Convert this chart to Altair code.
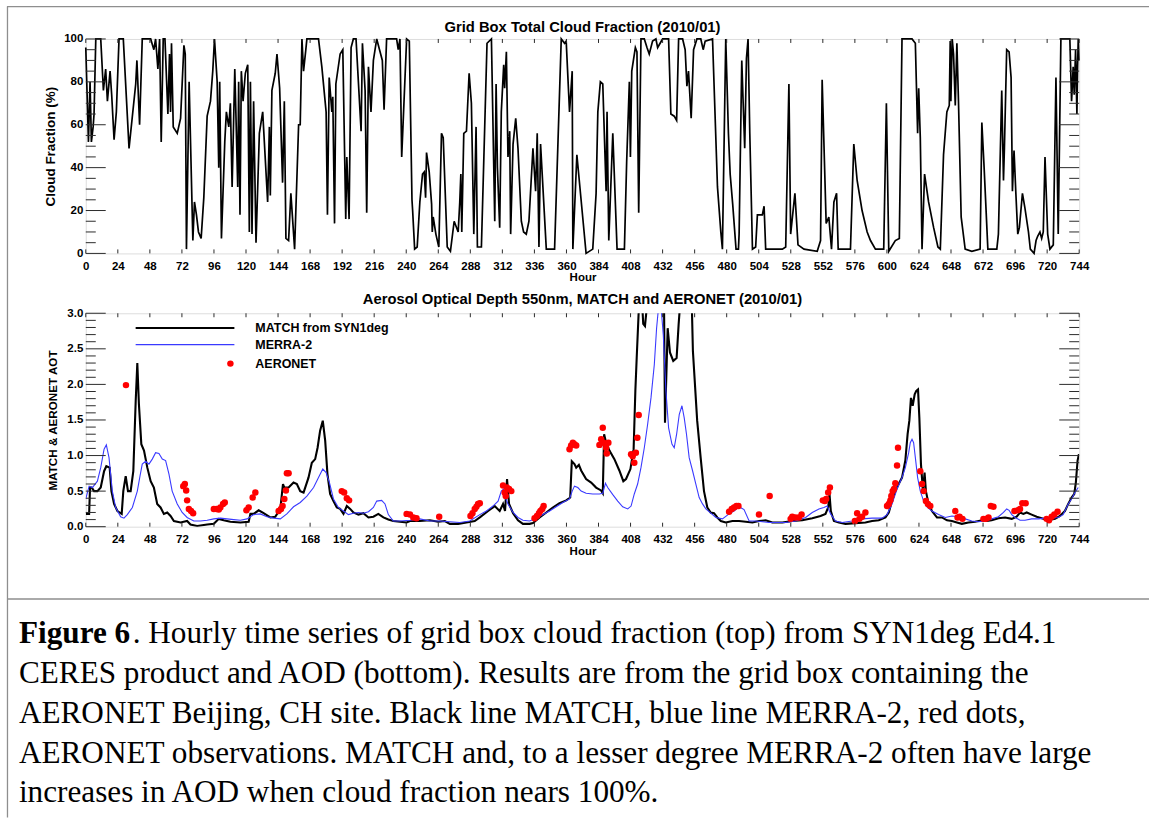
import altair as alt
import pandas as pd

# ---------------------------------------------------------------- data
# Grid box total cloud fraction (%) by hour of January 2010
cloud_points = [
    (0, 96), (2, 52), (3.2, 80), (4.2, 52), (5.5, 59), (6.2, 65), (7.5, 100), (11.2, 100),
    (13.2, 76), (14.9, 86), (16.2, 71), (18.2, 85), (19.4, 74), (21.2, 53), (22.9, 66),
    (24.9, 100), (28.1, 100), (32.4, 49), (37.4, 79), (38.3, 90), (40.3, 60), (42.3, 100),
    (48.6, 100), (51, 95), (52.3, 100), (54, 86), (55.3, 100), (56.5, 52), (58, 100),
    (59.3, 100), (61, 73), (61.5, 65), (62.7, 93), (63.5, 66), (64.2, 98), (65.5, 59),
    (68.5, 56), (71, 63), (73.5, 97), (74.5, 93), (75.4, 2), (77.4, 80), (80.2, 6),
    (81.4, 24), (82.9, 18), (84.4, 10), (86.4, 7), (88.4, 26), (90.9, 64), (93.4, 71),
    (95.1, 85), (96.4, 100), (98.4, 80), (99.6, 40), (100.3, 80), (101.6, 7), (104.1, 52),
    (105.3, 66), (107.1, 59), (108.3, 70), (109.6, 31), (111.6, 86), (113.8, 31),
    (114.5, 80), (115.5, 18), (116.5, 85), (117.8, 71), (119.5, 84), (121.3, 88),
    (122.5, 10), (123.3, 80), (124.5, 9), (125.7, 71), (127.5, 5), (130, 56), (132.5, 66),
    (136.2, 24), (137.5, 59), (138.2, 27), (139.4, 76), (141.9, 84), (143.2, 93),
    (145.2, 77), (147.4, 33), (148.7, 71), (149.9, 7), (151.9, 6), (153.6, 28), (156.4, 2),
    (159.4, 60), (160.6, 60), (161.9, 100), (163.1, 85), (164.8, 95), (165.6, 100),
    (174.3, 100), (176.8, 87), (180, 66), (181, 18), (182.3, 82), (184.3, 66), (185, 73),
    (186.3, 14), (187.3, 79), (190.5, 93), (192.5, 95), (194.7, 16), (195.5, 45),
    (197.2, 16), (198.7, 96), (200.4, 100), (202.4, 100), (206.2, 57), (207.2, 98),
    (209.2, 76), (210.4, 19), (211.7, 87), (213.6, 66), (215.4, 90), (217.9, 100),
    (220.4, 94), (222.1, 90), (223.4, 67), (225.3, 100), (232.8, 100), (234, 95),
    (235.3, 100), (236.6, 45), (240.3, 100), (242.3, 99), (244.3, 25), (244.8, 20),
    (246.3, 2), (248.2, 3), (250.2, 24), (252.2, 37), (253.5, 38), (254.5, 26), (255.2, 47),
    (257.2, 38), (259, 23), (259.5, 10), (260.2, 17), (262.2, 9), (264.4, 3), (266.4, 56),
    (267.7, 54), (270.7, 3), (273.1, 1), (275.9, 15), (278.9, 10), (280.1, 24), (280.9, 37),
    (281.6, 10), (283.1, 56), (285.1, 57), (287.1, 84), (288.8, 70), (290.6, 9), (292.3, 59),
    (293.3, 3), (296.3, 3), (300.5, 98), (303.8, 100), (306.3, 15), (307.3, 79), (308.3, 40),
    (310, 12), (311.2, 66), (313, 88), (313.7, 77), (315, 94), (316.2, 45), (317.5, 57),
    (318.2, 9), (320, 51), (322, 63), (323.7, 49), (326.2, 15), (327.9, 10), (329.9, 9),
    (331.9, 15), (334.9, 49), (336.9, 29), (338.1, 56), (339.4, 3), (340.6, 51), (344.9, 2),
    (351.1, 2), (356.1, 100), (358.6, 98), (359.8, 99), (362.3, 66), (364.3, 85), (364.8, 2),
    (367.8, 46), (374.7, 0), (379.7, 2), (382.2, 28), (383.5, 66), (385.4, 80), (387.2, 79),
    (389.7, 29), (390.4, 66), (391.7, 6), (394.7, 56), (397.9, 2), (403.4, 2), (405.1, 43),
    (407.1, 80), (407.9, 45), (408.9, 85), (411.6, 96), (412.8, 94), (414.1, 19),
    (415.8, 100), (418.3, 100), (420.3, 96), (422, 93), (424.5, 99), (427, 100), (428.3, 96),
    (432, 100), (436.5, 100), (438.2, 65), (440.7, 64), (442.5, 62), (444, 100), (447, 100),
    (448.9, 95), (450.2, 78), (451.4, 85), (453.4, 63), (455.2, 95), (457.7, 100),
    (460.6, 100), (462.4, 95), (463.9, 99), (469.4, 100), (473.1, 31), (474.3, 21),
    (475.6, 10), (476.8, 2), (479.3, 100), (481.3, 56), (482.6, 37), (484.5, 23), (487, 2),
    (488.8, 2), (489.3, 9), (491.3, 90), (492.3, 71), (493.5, 49), (494.8, 91), (496, 100),
    (497.3, 56), (499.3, 2), (501.7, 3), (503, 18), (506.7, 18), (508, 22), (509.2, 2),
    (521.7, 2), (524.2, 3), (526.6, 79), (527.9, 9), (531.1, 28), (533.4, 4), (537.9, 2),
    (547.8, 1), (550.3, 6), (551.5, 81), (554.5, 14), (556.5, 17), (558.5, 2), (560.3, 24),
    (562.3, 28), (563.5, 2), (572.7, 2), (575.2, 51), (577.7, 34), (581.4, 20), (585.2, 10),
    (587.7, 6), (591.4, 2), (597.6, 2), (599.6, 70), (601.4, 1), (606.3, 6), (609.3, 7),
    (611.3, 100), (618.8, 100), (621.3, 98), (623, 56), (623.8, 77), (625, 54), (626.3, 2),
    (628.2, 37), (631.2, 24), (635, 12), (638.2, 3), (640, 2), (642.4, 46), (644.9, 66),
    (646.7, 69), (647.4, 99), (647.9, 71), (648.9, 100), (649.9, 93), (651.2, 69),
    (652.4, 98), (653.6, 71), (655.6, 17), (658.6, 2), (663.6, 1), (669.8, 2), (671.1, 61),
    (672.8, 40), (675.6, 2), (682.3, 2), (683.5, 9), (686, 76), (687.3, 34), (688, 49),
    (689.7, 95), (691.5, 94), (693, 82), (694, 29), (695.2, 48), (696.5, 29), (698, 9),
    (699.2, 12), (701.5, 28), (703.4, 21), (706, 10), (707.4, 2), (710.2, 0), (711.7, 6),
    (712.9, 8), (714.6, 10), (715.9, 7), (717.1, 10), (718.4, 45), (720.4, 9), (722.1, 2),
    (724.6, 4), (726.6, 82), (728.3, 9), (730.3, 100), (737, 100), (738.3, 71), (739.5, 87),
    (740.3, 74), (741.3, 95), (742.3, 65), (742.8, 87), (743.3, 100), (743.8, 90),
]

# MATCH (SYN1deg) aerosol optical depth at 550 nm
match_points = [
    (0, 0.18), (2.5, 0.18), (3.2, 0.55), (4.5, 0.55), (6.2, 0.5), (8.7, 0.5), (11.2, 0.55),
    (13.7, 0.78), (15.4, 0.85), (17.9, 0.83), (19.2, 0.5), (21.2, 0.32), (23.7, 0.22),
    (26.9, 0.18), (28.1, 0.5), (29.9, 0.71), (31.6, 0.5), (33.6, 0.5), (35.6, 0.78),
    (37.4, 1.77), (38.6, 2.3), (39.8, 1.72), (41.6, 1.16), (43.6, 1.07), (46.1, 0.83),
    (48.6, 0.64), (51, 0.55), (53.5, 0.32), (56, 0.27), (58.5, 0.18), (61, 0.2), (63.5, 0.15),
    (66, 0.08), (71, 0.06), (75.9, 0.08), (78.4, 0.03), (83.4, 0.01), (90.9, 0.03),
    (95.9, 0.04), (99.6, 0.11), (103.3, 0.09), (108.3, 0.07), (115.8, 0.06), (122, 0.07),
    (123.3, 0.18), (125.7, 0.18), (129.5, 0.23), (133.2, 0.19), (138.2, 0.13), (141.9, 0.14),
    (145.7, 0.25), (147.7, 0.6), (148.7, 0.55), (151.9, 0.55), (155.6, 0.62), (158.1, 0.6),
    (160.6, 0.5), (163.1, 0.48), (166.8, 0.69), (169.3, 0.9), (171.8, 0.95), (173.6, 1.11),
    (175.5, 1.35), (177.5, 1.49), (179.3, 1.21), (181, 0.74), (183, 0.46), (185.5, 0.36),
    (188, 0.27), (190.5, 0.25), (193, 0.18), (195.5, 0.29), (198, 0.25), (200.4, 0.2),
    (204.2, 0.17), (207.9, 0.19), (211.7, 0.13), (215.4, 0.14), (219.1, 0.18), (222.9, 0.13),
    (226.6, 0.1), (230.3, 0.08), (235.3, 0.07), (240.3, 0.06), (242.8, 0.08), (250.2, 0.08),
    (257.7, 0.09), (263.9, 0.07), (268.9, 0.08), (272.7, 0.04), (278.9, 0.04), (285.1, 0.06),
    (291.3, 0.08), (295.1, 0.13), (301.3, 0.22), (306.3, 0.29), (310, 0.22), (312.5, 0.32),
    (314, 0.22), (315.5, 0.67), (317, 0.32), (320, 0.19), (323.7, 0.09), (327.4, 0.04),
    (332.4, 0.04), (334.9, 0.05), (339.9, 0.13), (344.9, 0.2), (349.8, 0.27), (354.8, 0.33),
    (359.8, 0.37), (362.8, 0.41), (364, 0.92), (366, 0.88), (367.3, 0.83), (369.3, 0.87),
    (371, 0.79), (374.7, 0.67), (378.5, 0.62), (382.2, 0.55), (385.9, 0.51), (387.2, 0.47),
    (388.2, 1.3), (389.7, 1.18), (392.2, 1.07), (395.9, 0.95), (399.6, 0.79), (402.6, 0.64),
    (404.6, 0.67), (407.9, 0.81), (410.3, 1.09), (411.6, 1.91), (412.6, 2.37), (414, 2.98),
    (415.3, 3.3), (416.5, 3.2), (417.5, 2.85), (418.8, 2.82), (420, 3.05), (422, 3.6),
    (426, 4.0), (430, 3.8), (433, 3.3), (433.8, 1.46), (435.8, 2.79), (437.5, 2.45),
    (440, 2.33), (442.5, 2.37), (444, 2.84), (445, 3.1), (448, 3.5), (452, 3.4), (453.9, 3.1),
    (454.7, 2.47), (457.9, 1.49), (460.5, 0.97), (463, 0.5), (465.5, 0.27), (468, 0.2),
    (470.5, 0.19), (473, 0.13), (475.6, 0.08), (479.3, 0.06), (484.3, 0.08), (489.3, 0.08),
    (494.3, 0.07), (499.3, 0.06), (504.2, 0.08), (509.2, 0.09), (514.2, 0.06), (521.7, 0.06),
    (529.1, 0.08), (536.6, 0.09), (544.1, 0.12), (550.3, 0.15), (554, 0.18), (556, 0.27),
    (557, 0.46), (558, 0.22), (560.3, 0.08), (564, 0.06), (569, 0.04), (576.5, 0.05),
    (583.9, 0.06), (588.9, 0.08), (593.9, 0.09), (598.9, 0.13), (601.4, 0.2), (603.8, 0.36),
    (606.3, 0.5), (608.8, 0.6), (611.3, 0.69), (613.8, 0.93), (615.5, 1.3), (616.8, 1.49),
    (618, 1.81), (619.3, 1.7), (620.8, 1.86), (622, 1.91), (623.3, 1.93), (624.3, 1.53),
    (625.5, 0.88), (627, 0.5), (628.2, 0.76), (629.2, 0.5), (631.2, 0.32), (633.7, 0.22),
    (637.5, 0.13), (641.2, 0.13), (645, 0.09), (648.7, 0.08), (652.4, 0.06), (656.1, 0.04),
    (661.1, 0.06), (666.1, 0.07), (671.1, 0.09), (674.8, 0.08), (678.5, 0.09), (683.5, 0.12),
    (688.5, 0.13), (693.5, 0.11), (697.2, 0.14), (699.7, 0.2), (702.2, 0.18), (704.7, 0.2),
    (708.4, 0.17), (712.2, 0.14), (715.9, 0.12), (720.9, 0.09), (725.9, 0.11), (729.6, 0.15),
    (733.3, 0.22), (735.8, 0.32), (738.3, 0.41), (740.3, 0.46), (741.5, 0.62), (742.8, 0.93),
    (743.8, 1.02),
]

# MERRA-2 aerosol optical depth
merra_points = [
    (0, 0.39), (2.5, 0.57), (5, 0.55), (8.7, 0.64), (11.2, 0.83), (13.7, 1.09), (15.4, 1.15),
    (17.4, 0.97), (19.9, 0.5), (22.4, 0.27), (26.1, 0.14), (28.6, 0.12), (31.1, 0.17),
    (34.9, 0.27), (38.6, 0.5), (40.6, 0.71), (42.3, 0.88), (44.8, 0.92), (47.3, 0.88),
    (49.8, 0.95), (52.3, 1.04), (54.8, 1.03), (57.3, 0.95), (59.8, 0.93), (62.3, 0.74),
    (64.7, 0.5), (68.5, 0.32), (72.2, 0.2), (75.9, 0.13), (80.9, 0.08), (85.9, 0.08),
    (90.9, 0.09), (95.9, 0.11), (100.8, 0.12), (105.8, 0.11), (110.8, 0.1), (115.8, 0.09),
    (120.8, 0.11), (125.7, 0.17), (130.7, 0.18), (135.7, 0.14), (140.7, 0.12), (145.7, 0.11),
    (150.6, 0.18), (155.6, 0.28), (160.6, 0.34), (165.6, 0.43), (170.6, 0.55), (174.3, 0.69),
    (177.5, 0.81), (180, 0.76), (182.5, 0.62), (185.5, 0.39), (189.2, 0.27), (193, 0.22),
    (196.7, 0.17), (200.4, 0.19), (204.2, 0.2), (207.9, 0.19), (211.7, 0.21), (215.4, 0.27),
    (217.9, 0.36), (221.6, 0.37), (224.1, 0.32), (226.6, 0.17), (230.3, 0.08), (235.3, 0.08),
    (242.8, 0.09), (250.2, 0.11), (257.7, 0.08), (265.2, 0.08), (272.7, 0.07), (280.1, 0.06),
    (287.6, 0.08), (295.1, 0.17), (300, 0.22), (305, 0.29), (308.8, 0.36), (311.2, 0.5),
    (313, 0.53), (314.5, 0.4), (316.2, 0.32), (320, 0.2), (323.7, 0.13), (327.4, 0.09),
    (332.4, 0.08), (337.4, 0.12), (342.4, 0.17), (347.4, 0.22), (352.3, 0.28), (357.3, 0.34),
    (362.3, 0.39), (364.3, 0.5), (366, 0.57), (368.5, 0.55), (371, 0.5), (374.7, 0.47),
    (379.7, 0.46), (384.7, 0.46), (387.2, 0.47), (389.2, 0.61), (390.9, 0.55), (394.7, 0.45),
    (398.4, 0.36), (402.1, 0.28), (405.9, 0.25), (408.4, 0.29), (410.8, 0.46), (413.3, 0.6),
    (415.8, 0.83), (418.3, 1.11), (420.8, 1.44), (423.3, 1.81), (425.8, 2.28), (427.5, 2.79),
    (428.8, 3.05), (430.8, 3.1), (432.5, 2.7), (434.5, 1.91), (436.5, 1.39), (439, 1.16),
    (440.7, 1.11), (442.5, 1.3), (444.5, 1.58), (446.5, 1.7), (448.2, 1.53), (449.9, 1.3),
    (451.9, 0.97), (454.4, 0.79), (456.9, 0.6), (459.4, 0.41), (461.9, 0.32), (464.4, 0.25),
    (468.1, 0.19), (471.9, 0.13), (476.8, 0.11), (481.8, 0.18), (485.5, 0.22), (489.3, 0.28),
    (493, 0.24), (496.8, 0.08), (501.7, 0.08), (506.7, 0.07), (511.7, 0.06), (516.7, 0.06),
    (524.2, 0.06), (531.6, 0.08), (539.1, 0.13), (544.1, 0.2), (549.1, 0.25), (552.8, 0.27),
    (555.3, 0.29), (557.8, 0.18), (561.5, 0.08), (566.5, 0.06), (574, 0.08), (581.4, 0.11),
    (588.9, 0.12), (596.4, 0.12), (600.1, 0.17), (603.8, 0.32), (607.6, 0.53), (611.3, 0.69),
    (613.8, 0.83), (616.3, 1.04), (617.5, 1.18), (618.8, 1.23), (620, 1.18), (621.3, 0.97),
    (623, 0.69), (625, 0.5), (627.5, 0.36), (630, 0.28), (633.7, 0.22), (638.7, 0.17),
    (643.7, 0.13), (648.7, 0.15), (653.6, 0.14), (658.6, 0.11), (663.6, 0.08), (668.6, 0.07),
    (673.6, 0.08), (678.5, 0.11), (683.5, 0.14), (687.3, 0.2), (689.7, 0.25), (691.5, 0.23),
    (693.5, 0.17), (696, 0.13), (699.7, 0.09), (703.4, 0.09), (708.4, 0.11), (713.4, 0.11),
    (718.4, 0.12), (723.4, 0.12), (728.3, 0.13), (732, 0.17), (735.8, 0.32), (738.3, 0.39),
    (740.8, 0.48), (743.3, 0.55),
]

# AERONET Beijing observations
aeronet_points = [
    (30.1, 1.99), (73.0, 0.57), (74.2, 0.6), (75.2, 0.51), (75.9, 0.37), (77.2, 0.25),
    (78.9, 0.22), (80.4, 0.19), (95.9, 0.25), (97.9, 0.25), (99.6, 0.24), (100.8, 0.27),
    (102.8, 0.32), (104.1, 0.34), (120.3, 0.23), (122, 0.27), (125, 0.41), (127, 0.48),
    (144.4, 0.22), (146.2, 0.25), (147.4, 0.29), (148.7, 0.39), (149.9, 0.51), (150.6, 0.75),
    (151.9, 0.75), (191.7, 0.5), (193.5, 0.48), (195.5, 0.4), (197.2, 0.37), (240.3, 0.18),
    (242.8, 0.17), (245.3, 0.13), (247.7, 0.12), (264.7, 0.14), (288.1, 0.15), (289.6, 0.19),
    (291.3, 0.25), (292.6, 0.28), (293.8, 0.32), (295.1, 0.33), (312.5, 0.58), (313.7, 0.48),
    (314.5, 0.43), (315.5, 0.55), (317, 0.53), (318.7, 0.5), (336.1, 0.12), (337.9, 0.15),
    (339.4, 0.19), (340.4, 0.22), (341.9, 0.25), (342.9, 0.29), (362.3, 1.09), (363.5, 1.14),
    (364.8, 1.18), (366, 1.16), (367.3, 1.14), (384.7, 1.15), (386, 1.23), (387.2, 1.39),
    (387.7, 1.18), (389.7, 1.11), (390.2, 1.03), (391.4, 1.18), (408.4, 1.02), (409.6, 0.99),
    (410.8, 0.9), (412, 1.04), (413.1, 1.25), (414.1, 1.57), (481.8, 0.21), (483.8, 0.25),
    (485.5, 0.27), (487.3, 0.29), (488.8, 0.29), (504.2, 0.17), (512.2, 0.43), (527.9, 0.11),
    (529.1, 0.14), (531.6, 0.13), (534.1, 0.13), (536.1, 0.17), (552, 0.37), (553.5, 0.36),
    (554.5, 0.39), (556, 0.48), (557.3, 0.55), (576, 0.08), (577.7, 0.19), (579.4, 0.11),
    (581.4, 0.14), (583.9, 0.2), (600.1, 0.29), (601.4, 0.32), (602.6, 0.37), (603.3, 0.43),
    (604.3, 0.5), (605.3, 0.53), (606.3, 0.61), (607.6, 0.86), (608.3, 1.11), (625, 0.78),
    (626.3, 0.6), (627.5, 0.5), (629.2, 0.36), (630.7, 0.32), (632.5, 0.29), (651.2, 0.22),
    (652.9, 0.13), (654.4, 0.14), (656.6, 0.11), (672.3, 0.11), (674.1, 0.11), (676.1, 0.13),
    (677.8, 0.29), (679.8, 0.28), (695.5, 0.22), (698, 0.23), (699.7, 0.25), (701.4, 0.33),
    (703.9, 0.33), (719.6, 0.11), (721.4, 0.09), (723.4, 0.14), (725.4, 0.17), (727.8, 0.21),
]

hour_ticks = list(range(0, 745, 24))
cf_major = [0, 20, 40, 60, 80, 100]
cf_minor = [5, 10, 15, 25, 30, 35, 45, 50, 55, 65, 70, 75, 85, 90, 95]
aod_major = [0.0, 0.5, 1.0, 1.5, 2.0, 2.5, 3.0]
aod_minor = [0.1, 0.2, 0.3, 0.4, 0.6, 0.7, 0.8, 0.9, 1.1, 1.2, 1.3, 1.4, 1.6, 1.7, 1.8, 1.9,
             2.1, 2.2, 2.3, 2.4, 2.6, 2.7, 2.8, 2.9]

top_title = "Grid Box Total Cloud Fraction (2010/01)"
bottom_title = "Aerosol Optical Depth 550nm, MATCH and AERONET (2010/01)"
legend_labels = ["MATCH from SYN1deg", "MERRA-2", "AERONET"]

caption_bold = "Figure 6"
caption_first = ". Hourly time series of grid box cloud fraction (top) from SYN1deg Ed4.1"
caption_rest = [
    "CERES product and AOD (bottom). Results are from the grid box containing the",
    "AERONET Beijing, CH site. Black line MATCH, blue line MERRA-2, red dots,",
    "AERONET observations. MATCH and, to a lesser degree MERRA-2 often have large",
    "increases in AOD when cloud fraction nears 100%.",
]

# ---------------------------------------------------------------- styling
W, H1, H2 = 996, 215, 214
SANS = "Liberation Sans"
SERIF = "Liberation Serif"
INK = "#2b2b2b"
FRAME = "#8e8e8e"
CAP_SIZE = 31.3
TITLE_SIZE = 14.8

cloud_df = pd.DataFrame(cloud_points, columns=["hour", "value"])
match_df = pd.DataFrame(match_points, columns=["hour", "value"])
merra_df = pd.DataFrame(merra_points, columns=["hour", "value"])
aeronet_df = pd.DataFrame(aeronet_points, columns=["hour", "value"])

hour_scale = alt.Scale(domain=[0, 744], nice=False, zero=False)
cf_scale = alt.Scale(domain=[0, 100], nice=False)
aod_scale = alt.Scale(domain=[0, 3], nice=False)

CF_TITLE = "Cloud Fraction (%)"
AOD_TITLE = "MATCH & AERONET AOT"

# one axis definition per channel, shared verbatim by every layer so they merge
HOUR_AXIS = alt.Axis(
    values=hour_ticks, title="Hour", labelAngle=0, labelFont=SANS,
    labelFontWeight="bold", labelFontSize=11.5, labelColor="black",
    labelPadding=7, labelOverlap=False, labelFlush=False, ticks=False, tickSize=0,
    domain=False, grid=False, titleFont=SANS, titleFontWeight="bold",
    titleFontSize=11.5, titleColor="black", titleY=24.5, titleBaseline="middle",
    zindex=2,
)


def value_axis(values, title, fmt, title_x, title_size):
    return alt.Axis(
        values=values, title=title, format=fmt, labelFont=SANS, labelFontWeight="bold",
        labelFontSize=11.5, labelColor="black", labelPadding=3, ticks=False, tickSize=0,
        domain=False, grid=False, titleFont=SANS, titleFontWeight="bold",
        titleFontSize=title_size, titleColor="black", titleX=title_x,
        titleBaseline="middle", titleAngle=270, zindex=2,
    )


CF_AXIS = value_axis(cf_major, CF_TITLE, "d", -35, 13.5)
AOD_AXIS = value_axis(aod_major, AOD_TITLE, ".1f", -33, 11.7)


def x_enc():
    return alt.X("hour:Q", scale=hour_scale, axis=HOUR_AXIS, title="Hour")


def cf_enc(field="value"):
    return alt.Y(f"{field}:Q", scale=cf_scale, axis=CF_AXIS, title=CF_TITLE)


def aod_enc(field="value"):
    return alt.Y(f"{field}:Q", scale=aod_scale, axis=AOD_AXIS, title=AOD_TITLE)


def y_ticks(values, length, enc):
    # inward ticks on both vertical sides of the box
    df = pd.DataFrame({"value": values})
    base = alt.Chart(df).mark_rule(color=INK, strokeWidth=1)
    left = base.encode(y=enc(), x=alt.value(0), x2=alt.value(length))
    right = base.encode(y=enc(), x=alt.value(W - length), x2=alt.value(W))
    return [left, right]


def x_ticks(height):
    df = pd.DataFrame({"hour": hour_ticks})
    base = alt.Chart(df).mark_rule(color=INK, strokeWidth=1)
    top = base.encode(x=x_enc(), y=alt.value(0), y2=alt.value(4))
    bottom = base.encode(x=x_enc(), y=alt.value(height - 4), y2=alt.value(height))
    return [top, bottom]


def title_mark(text, dy):
    return alt.Chart(pd.DataFrame({"t": [text]})).mark_text(
        font=SANS, fontWeight="bold", fontSize=TITLE_SIZE, color="black",
        align="center", baseline="middle",
    ).encode(text="t:N", x=alt.value(W / 2), y=alt.value(dy))


# ---------------------------------------------------------------- page furniture
# invisible page extent, table borders and caption, relative to the top panel
page = alt.Chart(pd.DataFrame({"p": [0]})).mark_rect(fill="white", opacity=0, strokeWidth=0).encode(
    x=alt.value(-85), x2=alt.value(1066), y=alt.value(-37.5), y2=alt.value(780.5)
)
border_df = pd.DataFrame({"p": [0]})
border_top = alt.Chart(border_df).mark_rule(color=FRAME, strokeWidth=1.3).encode(
    x=alt.value(-79), x2=alt.value(1066), y=alt.value(-32.5)
)
border_left = alt.Chart(border_df).mark_rule(color=FRAME, strokeWidth=1.3).encode(
    x=alt.value(-78.5), y=alt.value(-32.5), y2=alt.value(780.5)
)
border_mid = alt.Chart(border_df).mark_rule(color=FRAME, strokeWidth=1.3).encode(
    x=alt.value(-79), x2=alt.value(1066), y=alt.value(561.5)
)
cap_bold = alt.Chart(pd.DataFrame({"t": [caption_bold]})).mark_text(
    font=SERIF, fontWeight="bold", fontSize=CAP_SIZE, color="black", align="left",
    baseline="alphabetic",
).encode(text="t:N", x=alt.value(-67), y=alt.value(605.5))
cap_first = alt.Chart(pd.DataFrame({"t": [caption_first]})).mark_text(
    font=SERIF, fontSize=CAP_SIZE, color="black", align="left", baseline="alphabetic",
).encode(text="t:N", x=alt.value(47), y=alt.value(605.5))
cap_rest = alt.Chart(pd.DataFrame({"t": ["\n".join(caption_rest)]})).mark_text(
    font=SERIF, fontSize=CAP_SIZE, color="black", align="left", baseline="alphabetic",
    lineBreak="\n", lineHeight=40,
).encode(text="t:N", x=alt.value(-67), y=alt.value(645.5))

# ---------------------------------------------------------------- top panel
cloud_line = alt.Chart(cloud_df).mark_line(color="black", strokeWidth=1.7).encode(
    x=x_enc(), y=cf_enc(),
)

top = alt.layer(
    cloud_line,
    page, border_top, border_left, border_mid, cap_bold, cap_first, cap_rest,
    *y_ticks(cf_major, 20, cf_enc),
    *y_ticks(cf_minor, 10, cf_enc),
    *x_ticks(H1),
    title_mark(top_title, -11),
).properties(width=W, height=H1)

# ---------------------------------------------------------------- bottom panel
match_line = alt.Chart(match_df).mark_line(color="black", strokeWidth=2.1, clip=True).encode(
    x=x_enc(), y=aod_enc(),
)
merra_line = alt.Chart(merra_df).mark_line(color="#3a3aff", strokeWidth=1.1, clip=True).encode(
    x=x_enc(), y=aod_enc(),
)
aeronet_dots = alt.Chart(aeronet_df).mark_circle(color="#ff0000", size=42, opacity=1).encode(
    x=x_enc(), y=aod_enc(),
)

# legend in the upper left of the AOD panel
leg_df = pd.DataFrame({"t": [0]})
leg_match = alt.Chart(leg_df).mark_rule(color="black", strokeWidth=2.1).encode(
    x=alt.value(50), x2=alt.value(149), y=alt.value(14.8)
)
leg_merra = alt.Chart(leg_df).mark_rule(color="#3a3aff", strokeWidth=1.2).encode(
    x=alt.value(50), x2=alt.value(149), y=alt.value(31.5)
)
leg_dot = alt.Chart(leg_df).mark_circle(color="#ff0000", size=42, opacity=1).encode(
    x=alt.value(145), y=alt.value(50.5)
)
leg_text = []
for label, ypos in zip(legend_labels, [14.8, 31.5, 50.5]):
    leg_text.append(
        alt.Chart(pd.DataFrame({"t": [label]})).mark_text(
            font=SANS, fontWeight="bold", fontSize=12.5, color="black",
            align="left", baseline="middle",
        ).encode(text="t:N", x=alt.value(170), y=alt.value(ypos))
    )

bottom = alt.layer(
    match_line, merra_line, aeronet_dots,
    *y_ticks(aod_major, 20, aod_enc),
    *y_ticks(aod_minor, 10, aod_enc),
    *x_ticks(H2),
    leg_match, leg_merra, leg_dot, *leg_text,
    title_mark(bottom_title, -13),
).properties(width=W, height=H2)

chart = (
    alt.vconcat(top, bottom, spacing=60, bounds="flush")
    .properties(padding=0, autosize=alt.AutoSizeParams(type="pad"))
    .configure_view(stroke=INK, strokeWidth=1.2)
    .configure(background="white")
)

chart.save("out.html", embed_options={"renderer": "svg", "actions": False})
